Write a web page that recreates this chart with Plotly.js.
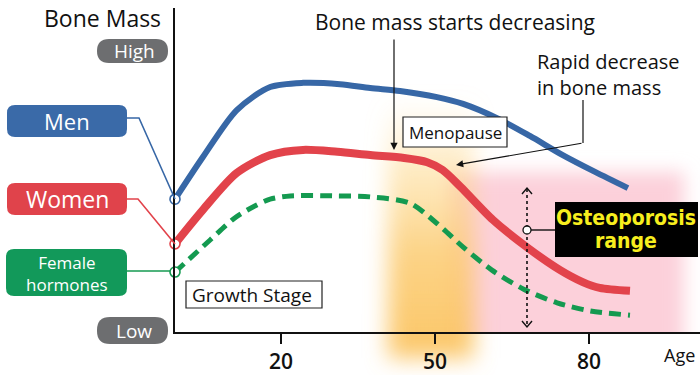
<!DOCTYPE html>
<html>
<head>
<meta charset="utf-8">
<script src="https://cdn.plot.ly/plotly-3.0.1.min.js"></script>
<style>html,body{margin:0;padding:0;background:#fff;}#chart{width:700px;height:375px;}</style>
</head>
<body>
<div id="chart"></div>
<script>
// ---- data (ages in years, bone mass / hormone level on a 0-100 relative scale) ----
const menAge = [-0.64, 4.8, 11.4, 17.9, 24.3, 31.5, 37.4, 43.2, 50.4, 55.5, 62.1, 68.5, 74.9, 81.2, 87.6];
const menMass = [41.0, 54.0, 68.5, 75.6, 76.9, 76.5, 75.3, 74.4, 72.5, 70.4, 66.0, 60.5, 54.6, 49.4, 44.4];

const womenAge = [-0.64, 4.8, 11.4, 17.9, 24.3, 31.0, 37.4, 44.0, 48.5, 51.5, 55.0, 61.3, 67.9, 74.4, 78.8, 82.1, 88.0];
const womenMass = [27.2, 37.7, 49.1, 54.6, 56.2, 55.6, 54.6, 53.7, 52.4, 50.0, 44.8, 34.6, 26.2, 19.1, 15.4, 13.6, 12.7];

const hormoneAge = [-0.64, 6.2, 11.0, 14.9, 17.9, 21.8, 30.9, 37.4, 45.1, 50.4, 55.5, 61.1, 67.2, 73.8, 80.3, 88.0];
const hormoneLevel = [18.5, 28.4, 35.2, 38.9, 41.0, 42.0, 42.0, 41.7, 39.8, 33.5, 26.2, 19.1, 13.3, 9.0, 6.5, 5.2];

const tickAges = [20, 50, 80];
const tickLabels = ['20', '50', '80'];

// ---- layout helpers (pixel -> paper) ----
const L = 175, T = 8, W = 525, H = 324;
const X = p => (p - L) / W;
const Y = p => (T + H - p) / H;
const FONT = 'Open Sans, Noto Sans, sans-serif';

const BLUE = '#3767a6', RED = '#e2434b', GREEN = '#149a50', GRAY = '#6d6e70';

function rr(x0, y0, x1, y1, r) {
  const a = [X(x0), X(x0 + r), X(x1 - r), X(x1)];
  const b = [Y(y0), Y(y0 + r), Y(y1 - r), Y(y1)];
  return `M ${a[1]} ${b[0]} L ${a[2]} ${b[0]} Q ${a[3]} ${b[0]} ${a[3]} ${b[1]} L ${a[3]} ${b[2]} Q ${a[3]} ${b[3]} ${a[2]} ${b[3]} L ${a[1]} ${b[3]} Q ${a[0]} ${b[3]} ${a[0]} ${b[2]} L ${a[0]} ${b[1]} Q ${a[0]} ${b[0]} ${a[1]} ${b[0]} Z`;
}
function box(x0, y0, x1, y1, r, fill, line) {
  return {type: 'path', xref: 'paper', yref: 'paper', path: rr(x0, y0, x1, y1, r),
    fillcolor: fill, line: {color: line || fill, width: line ? 1.2 : 0}, layer: 'above'};
}
function rect(x0, y0, x1, y1, fill, line) {
  return {type: 'rect', xref: 'paper', yref: 'paper', x0: X(x0), x1: X(x1), y0: Y(y0), y1: Y(y1),
    fillcolor: fill, line: {color: line || fill, width: line ? 1.2 : 0}, layer: 'above'};
}
function seg(pts, color, width, dash) {
  let d = pts.map((p, i) => (i ? 'L ' : 'M ') + X(p[0]) + ' ' + Y(p[1])).join(' ');
  return {type: 'path', xref: 'paper', yref: 'paper', path: d,
    line: {color: color, width: width, dash: dash || 'solid'}, layer: 'above'};
}
function txt(text, px, py, size, color, opts) {
  return Object.assign({xref: 'paper', yref: 'paper', x: X(px), y: Y(py), text: text, showarrow: false,
    xanchor: 'center', yanchor: 'middle', font: {family: FONT, size: size, color: color, weight: 500}}, opts || {});
}

// ---- blurred background zones (menopause band and osteoporosis range) ----
const bgSvg = `<svg xmlns="http://www.w3.org/2000/svg" width="700" height="375" viewBox="0 0 700 375">
<defs>
<filter id="f" x="-50%" y="-50%" width="200%" height="200%"><feGaussianBlur stdDeviation="9"/></filter>
<filter id="g" x="-50%" y="-50%" width="200%" height="200%"><feGaussianBlur stdDeviation="11"/></filter>
<linearGradient id="og" x1="0" y1="0" x2="0" y2="1">
<stop offset="0" stop-color="#fdd98c" stop-opacity="0"/>
<stop offset="0.25" stop-color="#fdd98c" stop-opacity="0.5"/>
<stop offset="0.6" stop-color="#fccb70" stop-opacity="0.85"/>
<stop offset="1" stop-color="#fbc35f" stop-opacity="0.95"/>
</linearGradient>
<clipPath id="c"><rect x="0" y="0" width="700" height="333"/></clipPath>
</defs>
<g clip-path="url(#c)"><rect x="450" y="172" width="234" height="180" fill="#fcd0da" filter="url(#f)"/></g>
<rect x="388" y="100" width="86" height="258" fill="url(#og)" filter="url(#g)"/>
</svg>`;

const traces = [
  {x: hormoneAge, y: hormoneLevel, mode: 'lines', line: {color: GREEN, width: 5, dash: '12px,7px', shape: 'spline', smoothing: 0.8}, hoverinfo: 'skip'},
  {x: womenAge, y: womenMass, mode: 'lines', line: {color: RED, width: 8, shape: 'spline', smoothing: 0.8}, hoverinfo: 'skip'},
  {x: menAge, y: menMass, mode: 'lines', line: {color: BLUE, width: 6, shape: 'spline', smoothing: 0.8}, hoverinfo: 'skip'},
  {x: [menAge[0], womenAge[0], hormoneAge[0]], y: [menMass[0], womenMass[0], hormoneLevel[0]], mode: 'markers', cliponaxis: false,
   marker: {size: 10, color: '#fff', line: {width: 1.6, color: [BLUE, RED, GREEN]}}, hoverinfo: 'skip'}
];

const shapes = [
  seg([[127, 118], [139, 118], [175, 199]], BLUE, 1.6),
  seg([[127, 199], [138, 199], [175, 244]], RED, 1.6),
  seg([[127, 271], [170, 271]], GREEN, 1.6),
  box(7, 105, 127, 137, 8, '#3a6aa8'),
  box(7, 183, 127, 215, 8, '#e0434b'),
  box(6, 249, 127, 296, 8, '#12995a'),
  box(97, 39, 168, 63, 12, GRAY),
  box(97, 317, 168, 344, 13, GRAY),
  rect(186, 281, 322, 308, '#ffffff', '#222'),
  rect(403, 117, 507, 147, '#ffffff', '#222'),
  rect(555, 202, 698, 257, '#000000'),
  seg([[583, 100], [583, 143]], '#111', 1.2),
  seg([[527, 189], [527, 326]], '#111', 1.6, 'dot'),
  seg([[522, 194], [527, 188], [532, 194]], '#111', 1.4),
  seg([[522, 321], [527, 327], [532, 321]], '#111', 1.4),
  seg([[531, 230], [555, 230]], '#111', 1.4),
  {type: 'circle', xref: 'paper', yref: 'paper', x0: X(523), x1: X(531), y0: Y(226), y1: Y(234),
   fillcolor: '#fff', line: {color: '#111', width: 1.3}, layer: 'above'}
];

const OFONT = {family: 'Liberation Sans Narrow, DejaVu Sans Condensed, sans-serif', size: 21, color: '#f7ee1e'};
const annotations = [
  txt('Bone Mass', 102, 18, 23, '#111'),
  txt('High', 134, 51, 19, '#fff'),
  txt('Low', 134, 331, 19, '#fff'),
  txt('Men', 67, 121, 22, '#fff'),
  txt('Women', 67, 199, 23, '#fff'),
  txt('Female<br>hormones', 67, 273, 17, '#fff'),
  txt('Growth Stage', 252, 295, 19, '#111'),
  txt('Menopause', 455, 132, 17, '#111'),
  txt('Bone mass starts decreasing', 455, 22, 21, '#111'),
  txt('Rapid decrease<br>in bone mass', 535, 74, 20, '#111', {xanchor: 'left', align: 'left'}),
  txt('<b>Osteoporosis</b>', 626, 218, 21, '#f7ee1e', {font: OFONT}),
  txt('<b>range</b>', 626, 241, 21, '#f7ee1e', {font: OFONT}),
  txt('Age', 679, 355, 18, '#111'),
  {xref: 'paper', yref: 'paper', x: X(394), y: Y(150), ax: 0, ay: -112, text: '', showarrow: true,
   arrowhead: 2, arrowsize: 1.2, arrowwidth: 1.2, arrowcolor: '#111'},
  {xref: 'paper', yref: 'paper', x: X(456), y: Y(165), ax: 127, ay: -22, text: '', showarrow: true,
   arrowhead: 2, arrowsize: 1.2, arrowwidth: 1.2, arrowcolor: '#111'}
];

const layout = {
  width: 700, height: 375,
  margin: {l: L, r: 0, t: T, b: 375 - T - H},
  paper_bgcolor: '#fff', plot_bgcolor: 'rgba(0,0,0,0)',
  showlegend: false,
  xaxis: {range: [-0.64, 101.64], showgrid: false, zeroline: false, showline: true, linecolor: '#111', linewidth: 2,
    tickvals: tickAges, ticktext: tickLabels, ticks: 'outside', ticklen: 10, tickwidth: 2, tickcolor: '#111',
    tickfont: {family: FONT, size: 21, color: '#111', weight: 600}, fixedrange: true},
  yaxis: {range: [0, 100], showgrid: false, zeroline: false, showline: true, linecolor: '#111', linewidth: 2,
    showticklabels: false, ticks: '', fixedrange: true},
  images: [{source: 'data:image/svg+xml;charset=utf-8,' + encodeURIComponent(bgSvg), xref: 'paper', yref: 'paper',
    x: X(0), y: Y(0), sizex: 700 / W, sizey: 375 / H, xanchor: 'left', yanchor: 'top', sizing: 'stretch', layer: 'below'}],
  shapes: shapes,
  annotations: annotations
};

Plotly.newPlot('chart', traces, layout, {displayModeBar: false, staticPlot: true});
</script>
</body>
</html>
